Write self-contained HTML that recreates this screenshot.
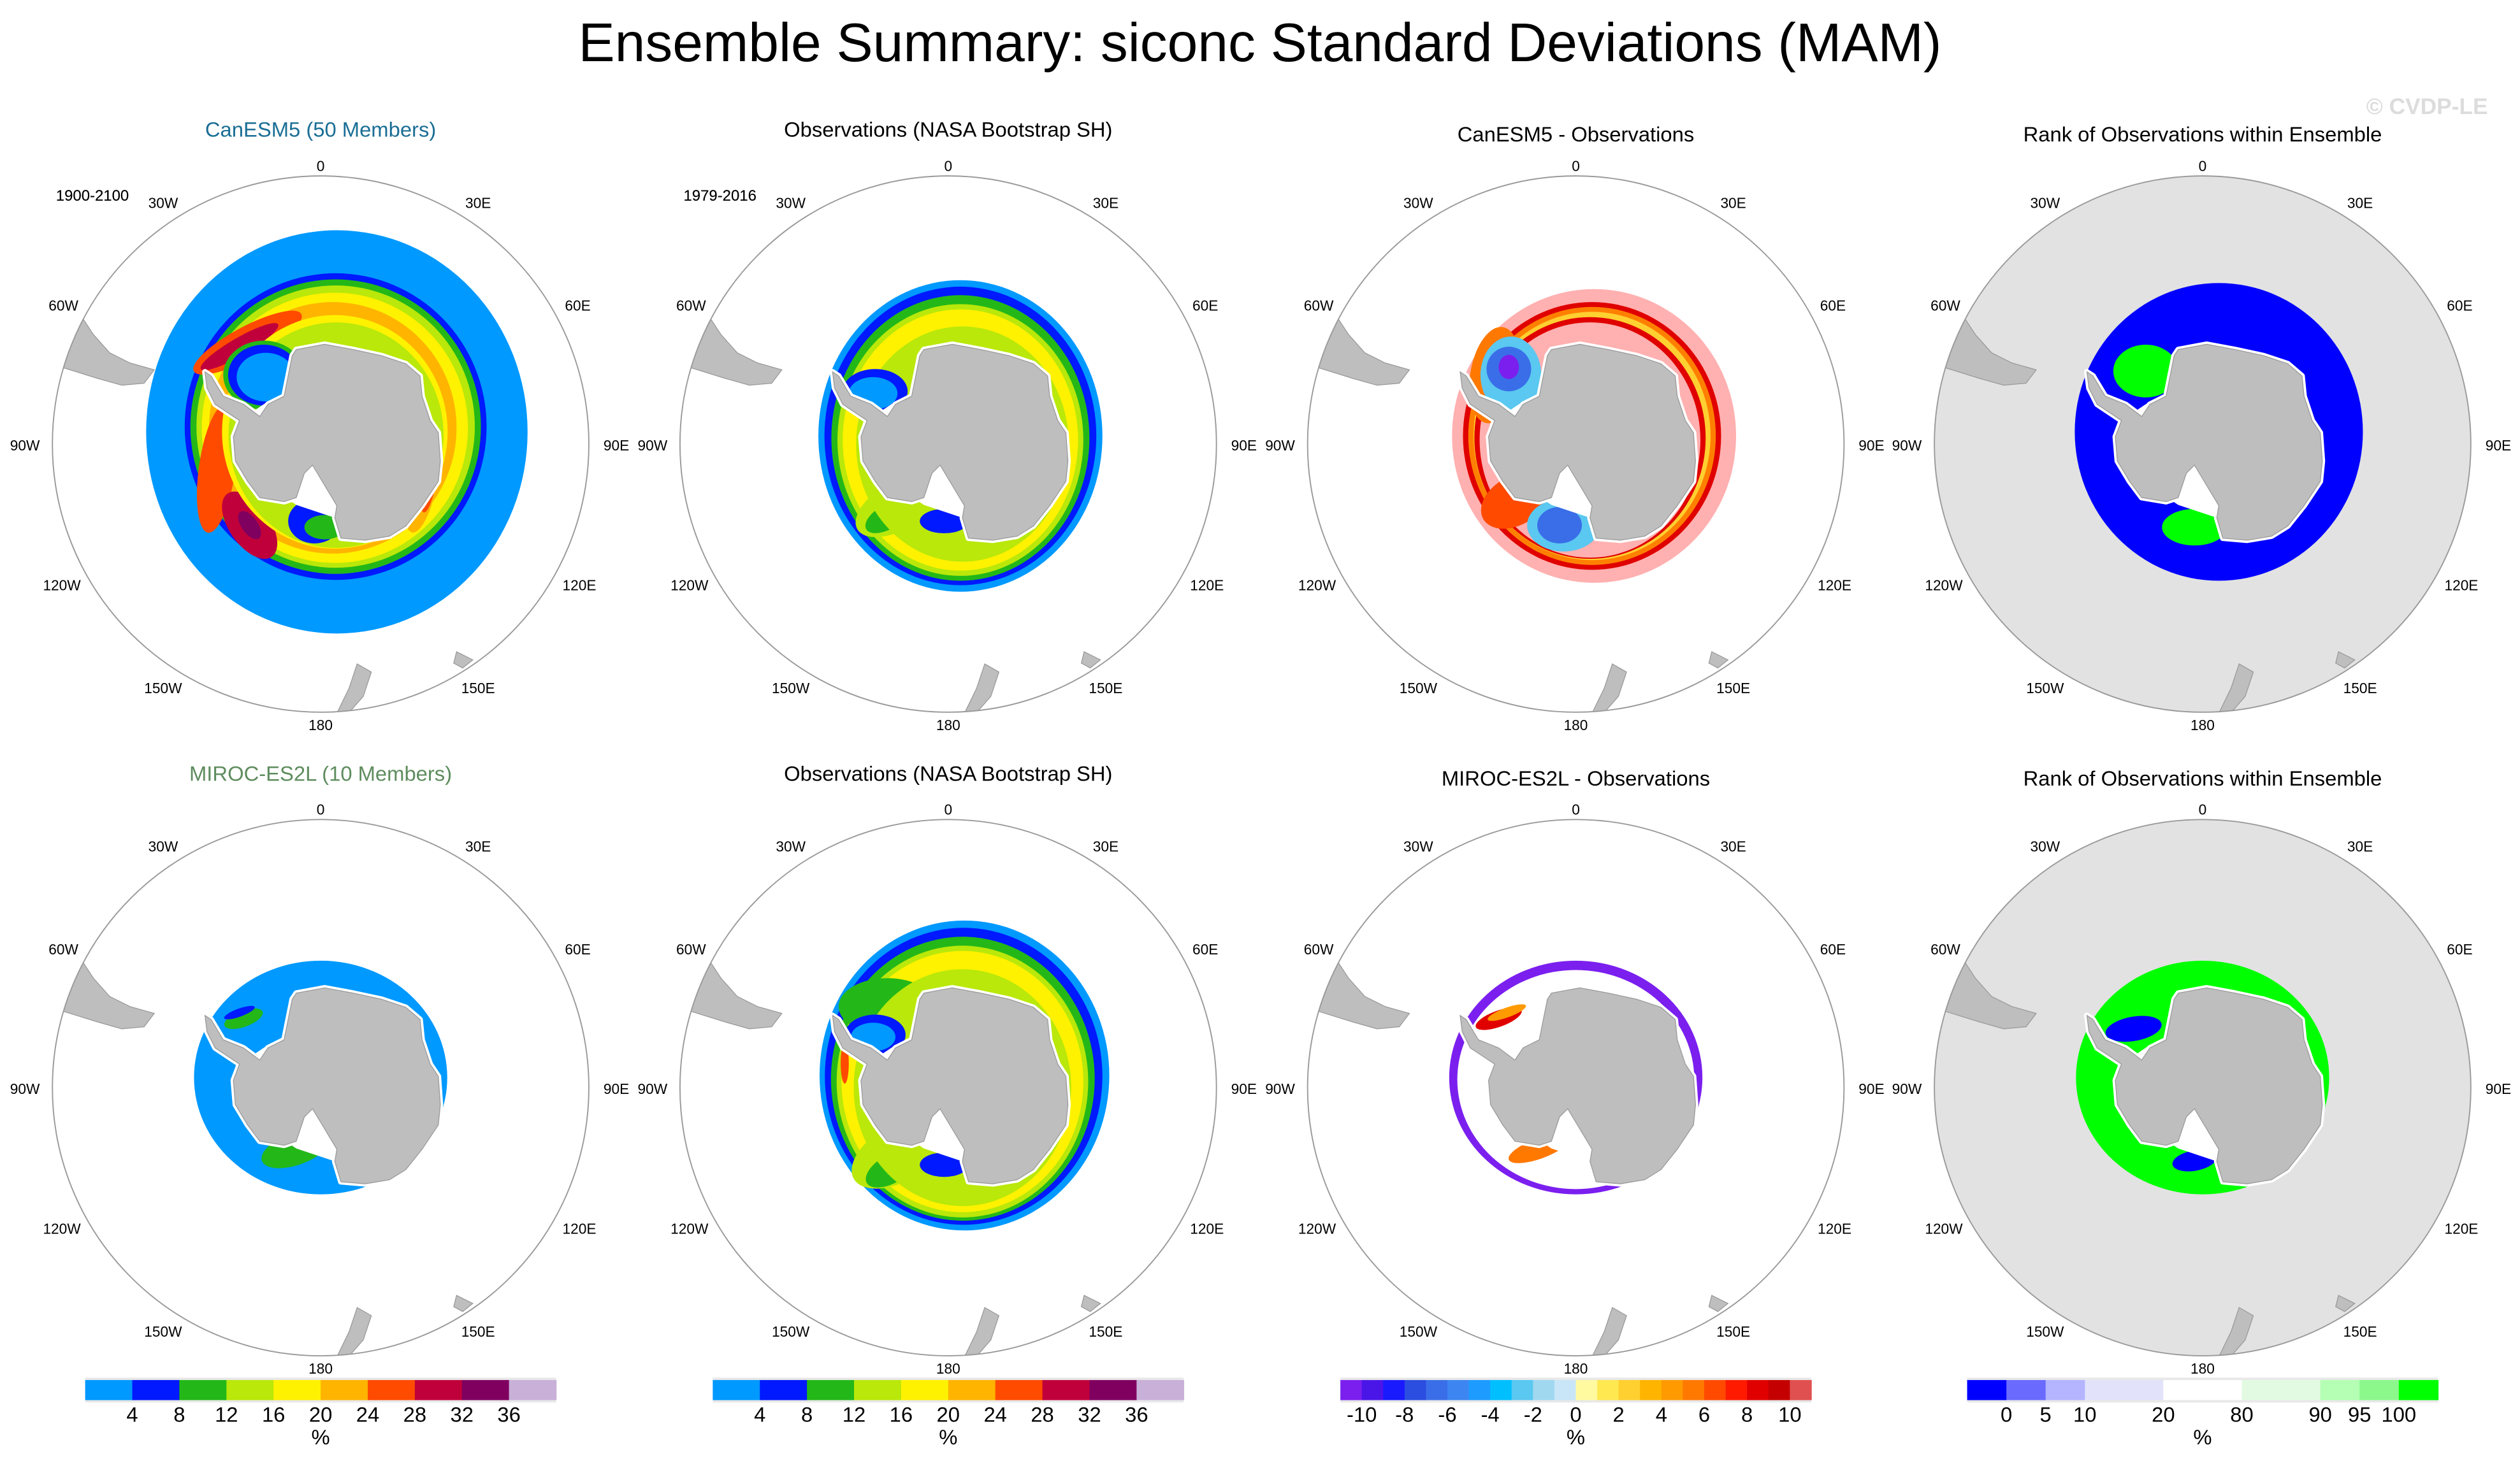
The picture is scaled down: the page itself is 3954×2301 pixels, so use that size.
<!DOCTYPE html>
<html><head><meta charset="utf-8"><style>
html,body{margin:0;padding:0;background:#fff;width:3954px;height:2301px;overflow:hidden}
svg{display:block}
text{font-family:"Liberation Sans",sans-serif}
</style></head><body>
<svg id="fig" width="3954" height="2301" viewBox="0 0 1568 912.5" preserveAspectRatio="none" xmlns="http://www.w3.org/2000/svg">
<defs>
<clipPath id="circ"><circle cx="0" cy="0" r="661"/></clipPath>
</defs>
<text x="784" y="38" font-size="34" text-anchor="middle" fill="#000">Ensemble Summary: siconc Standard Deviations (MAM)</text>
<text x="1548" y="71" font-size="14" text-anchor="end" fill="#dcdcdc" font-weight="bold">© CVDP-LE</text>
<g id="panels"></g>
</svg>
<script>
// Colorbar data
const cbStdColors = ['#0099ff','#0019ff','#23b818','#b9e80a','#fff200','#ffb400','#ff4b00','#c0003a','#800060','#c8b0d8'];
const cbStdLabels = ['4','8','12','16','20','24','28','32','36'];
const cbDiffColors = ['#7b1fef','#4a16e8','#1a1aff','#2b4de0','#3a6ee8','#3d86f2','#1e9bff','#00bfff','#5ac8f0','#a0d8f0','#c8e6f8','#fffaa0','#ffe850','#ffd030','#ffb400','#ff9a00','#ff7800','#ff4a00','#ff1a00','#e00000','#c40000','#e05050'];
const cbDiffLabels = ['-10','-8','-6','-4','-2','0','2','4','6','8','10'];
const cbRankColors = ['#0000ff','#6a6aff','#b4b4ff','#e2e2fa','#ffffff','#e2fae2','#b4ffb4','#8cf88c','#00ff00'];
const cbRankWidths = [1,1,1,2,2,2,1,1,1];
const cbRankLabels = ['0','5','10','20','80','90','95','100'];

const NS='http://www.w3.org/2000/svg';
function mk(tag, attrs, parent){const e=document.createElementNS(NS,tag);for(const k in attrs)e.setAttribute(k,attrs[k]);parent.appendChild(e);return e;}
const root=document.getElementById('panels');

const antPts=[[-60,-233],[10,-246],[80,-233],[150,-218],[210,-198],[245,-168],[250,-118],[270,-58],[290,-28],[295,42],[290,92],[250,152],[210,202],[170,227],[110,237],[50,232],[35,182],[40,152],[10,102],[-20,52],[-40,72],[-60,132],[-90,142],[-150,132],[-180,92],[-210,42],[-215,-18],[-200,-58],[-230,-78],[-260,-98],[-280,-138],[-285,-178],[-270,-168],[-240,-118],[-190,-98],[-150,-68],[-130,-98],[-90,-118],[-80,-168],[-70,-218]];
const saPts=[[-600,-330],[-585,-308],[-560,-270],[-520,-225],[-470,-200],[-410,-183],[-435,-150],[-490,-145],[-550,-162],[-640,-190],[-680,-200]];
const nzPts=[[90,542],[125,562],[105,622],[70,662],[40,700],[32,680],[70,602]];
const tasPts=[[335,512],[375,532],[350,552],[328,540]];
const pts=a=>a.map(p=>p.join(',')).join(' ');

// field layers: [color, cx, cy, rx, ry, rot]
const fields={
 p1:[['#0099ff',40,-30,470,497,0],['#0019ff',37,-43,372,378,0],['#23b818',37,-43,358,363,0],['#b9e80a',37,-43,343,348,0],['#fff200',35,-40,328,333,0],['#ffb400',30,-40,305,310,0],['#ff4b00',-180,-250,150,40,-28],['#c0003a',-200,-240,110,22,-30],['#ff4b00',-255,60,45,160,8],['#c0003a',-175,200,50,95,-35],['#800060',-175,200,20,40,-35],['#ffb400',250,80,40,140,10],['#ff4b00',270,80,18,90,10],['#fff200',35,-30,278,288,0],['#b9e80a',38,-22,265,278,0],['#23b818',-140,-170,100,85,0],['#0019ff',-140,-170,88,75,0],['#0099ff',-135,-165,72,60,0],['#0019ff',-15,190,65,55,0],['#23b818',10,205,50,30,0]],
 p2:[['#0099ff',30,-20,350,384,0],['#0019ff',30,-20,335,368,0],['#23b818',30,-15,318,352,0],['#b9e80a',30,-10,303,335,0],['#fff200',30,-10,290,322,0],['#b9e80a',-120,150,120,60,-30],['#23b818',-150,180,60,30,-30],['#b9e80a',35,0,262,290,0],['#0019ff',-180,-130,80,55,0],['#0099ff',-185,-125,60,40,0],['#0019ff',-10,190,60,30,0]],
 p3:[['#ffb0b0',45,-20,350,362,0],['#e00000',40,-20,318,330,0],['#ff8000',40,-20,305,318,0],['#ffd030',40,-20,292,306,0],['#e00000',35,-15,285,298,0],['#ffb0b0',35,-10,272,290,0],['#ff7800',-200,-170,60,120,10],['#5ac8f0',-160,-170,75,95,0],['#3a6ee8',-165,-185,55,55,0],['#7b1fef',-165,-190,25,30,0],['#ff4a00',-150,140,90,60,-30],['#5ac8f0',-30,200,90,65,0],['#3a6ee8',-40,200,55,45,0]],
 p4:[['#0000ff',40,-30,355,367,0],['#00ff00',-140,-180,80,65,0],['#00ff00',-20,205,80,45,0]],
 p5:[['#0099ff',0,-25,312,288,0],['#23b818',-190,-170,50,20,-20],['#0019ff',-200,-185,40,10,-20],['#23b818',-60,150,90,40,-20]],
 p6:[['#0099ff',40,-30,357,382,0],['#0019ff',38,-28,342,366,0],['#23b818',36,-22,325,350,0],['#b9e80a',35,-15,310,335,0],['#fff200',35,-15,298,322,0],['#23b818',-150,-200,120,70,0],['#b9e80a',-120,160,130,70,-30],['#23b818',-140,200,70,35,-30],['#b9e80a',35,0,268,292,0],['#0019ff',-180,-130,75,50,0],['#0099ff',-185,-125,55,35,0],['#ff4b00',-255,-60,10,50,0],['#0019ff',-10,190,60,30,0]],
 p7:[['#7b1fef',0,-25,312,288,0],['#ffffff',0,-20,292,270,0],['#e00000',-190,-170,60,20,-20],['#ff9a00',-170,-185,50,12,-20],['#ff7800',-90,150,80,25,-20]],
 p8:[['#00ff00',0,-25,312,288,0],['#0000ff',-170,-145,70,30,-10],['#0000ff',-20,180,55,25,-10]]
};
const cols=[199.5,590,980.5,1370.5];
const rowsY=[276.4,677];
const panels=[
 {id:'p1',c:0,r:0,title:'CanESM5 (50 Members)',tc:'#1a6e95',ty:85,yr:'1900-2100',bg:null},
 {id:'p2',c:1,r:0,title:'Observations (NASA Bootstrap SH)',tc:'#000',ty:85,yr:'1979-2016',bg:null},
 {id:'p3',c:2,r:0,title:'CanESM5 - Observations',tc:'#000',ty:88,yr:null,bg:null},
 {id:'p4',c:3,r:0,title:'Rank of Observations within Ensemble',tc:'#000',ty:88,yr:null,bg:'#e2e2e2'},
 {id:'p5',c:0,r:1,title:'MIROC-ES2L (10 Members)',tc:'#5e8c5e',ty:486,yr:'1900-2100',bg:null},
 {id:'p6',c:1,r:1,title:'Observations (NASA Bootstrap SH)',tc:'#000',ty:486,yr:'1979-2016',bg:null},
 {id:'p7',c:2,r:1,title:'MIROC-ES2L - Observations',tc:'#000',ty:489,yr:null,bg:null},
 {id:'p8',c:3,r:1,title:'Rank of Observations within Ensemble',tc:'#000',ty:489,yr:null,bg:'#e2e2e2'}
];
const lonLabels=[['0',0,-170],['30W',-98,-147],['30E',98,-147],['60W',-160,-83],['60E',160,-83],['90W',-184,4],['90E',184,4],['120W',-161,91],['120E',161,91],['150W',-98,155],['150E',98,155],['180',0,178]];

panels.forEach(p=>{
 const cx=cols[p.c], cy=rowsY[p.r];
 const g=mk('g',{},root);
 
 
 const t=mk('text',{x:cx,y:p.ty,'font-size':13,'text-anchor':'middle',fill:p.tc},g);
 t.textContent=p.title;
 
 
 if(p.yr){const y=mk('text',{x:cx-142,y:125,'font-size':9.5,'text-anchor':'middle',fill:'#000'},g);y.textContent=p.yr;
  
  }
 lonLabels.forEach(l=>{const e=mk('text',{x:cx+l[1],y:cy+l[2],'font-size':9,'text-anchor':'middle',fill:'#000'},g);e.textContent=l[0];
  
  });
 const m=mk('g',{transform:`translate(${cx},${cy}) scale(0.2525)`},g);
 
 
 const inner=mk('g',{'clip-path':'url(#circ)'},m);
 if(p.bg) mk('circle',{cx:0,cy:0,r:661,fill:p.bg},inner);
 fields[p.id].forEach(f=>{
  const e=mk('ellipse',{cx:f[1],cy:f[2],rx:f[3],ry:f[4],fill:f[0],transform:`rotate(${f[5]} ${f[1]} ${f[2]})`},inner);
  
  
 });
 mk('polygon',{points:'-20,52 30,110 45,185 -60,150 -90,130',fill:'#fff'},inner);
 mk('polygon',{points:'-200,-58 -130,-105 -90,-118 -100,-70 -180,-50',fill:'#fff'},inner);
 const ant=mk('polygon',{points:pts(antPts),fill:'#bebebe',stroke:'#fff','stroke-width':14,'stroke-linejoin':'round'},inner);
 
 
 mk('polygon',{points:pts(antPts),fill:'#bebebe',stroke:'#999','stroke-width':2},inner);
 [saPts,nzPts,tasPts].forEach(a=>{const e=mk('polygon',{points:pts(a),fill:'#bebebe',stroke:'#999','stroke-width':2},inner);
  
  });
 const c=mk('circle',{cx:0,cy:0,r:661,fill:'none',stroke:'#9a9a9a','stroke-width':3},m);
 
 
});

function colorbar(col, colors, widths, labels, labelIdx){
 const x0=cols[col]-146.5, W=293, y0=859, h=12.5;
 const g=mk('g',{},root);
 
 
 mk('rect',{x:x0,y:y0-1.5,width:W,height:h+3,fill:'#e8e8e8'},g);
 const tot=widths.reduce((a,b)=>a+b,0);
 let x=x0; const bnd=[];
 colors.forEach((cl,i)=>{const w=W*widths[i]/tot;
  const r=mk('rect',{x:x,y:y0,width:w+0.3,height:h,fill:cl},g);
  
  
  x+=w; bnd.push(x);});
 labels.forEach((lb,i)=>{const bx=bnd[labelIdx(i)];
  const t=mk('text',{x:bx,y:885,'font-size':13,'text-anchor':'middle',fill:'#000'},g);t.textContent=lb;
  
  });
 const u=mk('text',{x:cols[col],y:899,'font-size':13,'text-anchor':'middle',fill:'#000'},g);u.textContent='%';
 
 
}
colorbar(0,cbStdColors,cbStdColors.map(()=>1),cbStdLabels,i=>i);
colorbar(1,cbStdColors,cbStdColors.map(()=>1),cbStdLabels,i=>i);
colorbar(2,cbDiffColors,cbDiffColors.map(()=>1),cbDiffLabels,i=>i*2);
colorbar(3,cbRankColors,cbRankWidths,cbRankLabels,i=>i);
</script>
</body></html>
